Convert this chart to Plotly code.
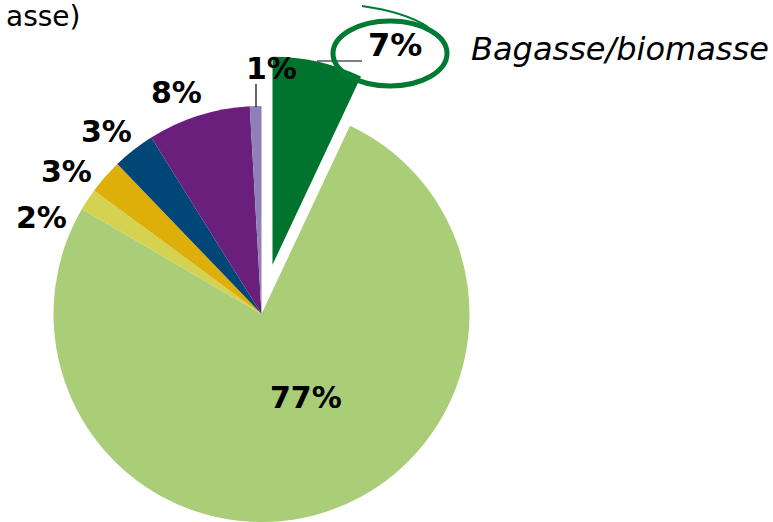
import math
import plotly.graph_objects as go

# ---- data ----
sources = ["Bagasse/biomasse", "Source 2", "Source 3", "Source 4", "Source 5", "Source 6", "Source 7"]
shares = [7.0, 76.5, 1.7, 2.7, 3.3, 8.0, 0.9]
share_labels = ["7%", "77%", "2%", "3%", "3%", "8%", "1%"]
colors = ["#00732F", "#AACD78", "#D4D250", "#DDAF08", "#004677", "#6B1F7C", "#9080B8"]
highlight_text = "Bagasse/biomasse"
title_fragment = "asse)"

# ---- layout constants (pixels) ----
W, H = 773, 522
CX, CY, R = 261.5, 314.0, 208.0
PULL = 0.243
# label placement (pixel centres), one per slice, in slice order
label_pos = [(394.5, 45), (306, 397.5), (41.5, 217.5), (66.5, 171), (106, 131), (176.5, 93), (271.5, 68)]
label_size = [32, 30, 30, 30, 30, 30, 30]


def px(x):
    return x / W


def py(y):
    return 1 - y / H


def domain(cx, cy, r):
    return dict(x=[px(cx - r), px(cx + r)], y=[py(cy + r), py(cy - r)])


total = sum(shares)
theta = math.radians(shares[0] / total * 360 / 2)
d = PULL * R
CXB, CYB = CX + d * math.sin(theta), CY - d * math.cos(theta)

FONT = "DejaVu Sans"
TRANSP = "rgba(0,0,0,0)"
GREEN_MARK = "#007A33"

main_colors = [TRANSP] + colors[1:]

fig = go.Figure()
fig.add_trace(go.Pie(
    labels=sources, values=shares, textinfo="none",
    sort=False, direction="clockwise", rotation=0,
    marker=dict(colors=main_colors, line=dict(width=0)),
    domain=domain(CX, CY, R), showlegend=False, hoverinfo="label+percent",
))

hl_colors = [colors[0]] + [TRANSP] * (len(shares) - 1)
fig.add_trace(go.Pie(
    labels=sources, values=shares, textinfo="none",
    sort=False, direction="clockwise", rotation=0,
    marker=dict(colors=hl_colors, line=dict(width=0)),
    domain=domain(CXB, CYB, R), showlegend=False, hoverinfo="skip",
))

# percentage labels
for txt, (lx, ly), sz in zip(share_labels, label_pos, label_size):
    fig.add_annotation(x=px(lx), y=py(ly), xref="paper", yref="paper",
                       text=txt, showarrow=False, xanchor="center", yanchor="middle",
                       font=dict(family=FONT, size=sz, color="black", weight="bold"))

# leader lines
fig.add_shape(type="line", xref="paper", yref="paper",
              x0=px(317), x1=px(362), y0=py(61), y1=py(61),
              line=dict(color="black", width=1.2))
fig.add_shape(type="line", xref="paper", yref="paper",
              x0=px(256), x1=px(256), y0=py(84), y1=py(107),
              line=dict(color="black", width=1.2))

# highlight ring
fig.add_shape(type="circle", xref="paper", yref="paper",
              x0=px(333), x1=px(447), y0=py(86), y1=py(21),
              line=dict(color=GREEN_MARK, width=5))
fig.add_shape(type="path", xref="paper", yref="paper",
              path=f"M {px(362)},{py(6)} Q {px(405)},{py(12)} {px(428)},{py(27)}",
              line=dict(color=GREEN_MARK, width=2))

fig.add_annotation(x=px(469), y=py(49), xref="paper", yref="paper",
                   text=highlight_text, showarrow=False, xanchor="left", yanchor="middle",
                   font=dict(family=FONT, size=32, color="black", style="italic"))
fig.add_annotation(x=px(82), y=py(16), xref="paper", yref="paper",
                   text=title_fragment, showarrow=False, xanchor="right", yanchor="middle",
                   font=dict(family=FONT, size=28, color="black"))

fig.update_layout(width=W, height=H, margin=dict(l=0, r=0, t=0, b=0),
                  paper_bgcolor="white", plot_bgcolor="white")
fig.write_html("out.html", config={"displayModeBar": False},
               post_script="document.body.style.margin='0';")
